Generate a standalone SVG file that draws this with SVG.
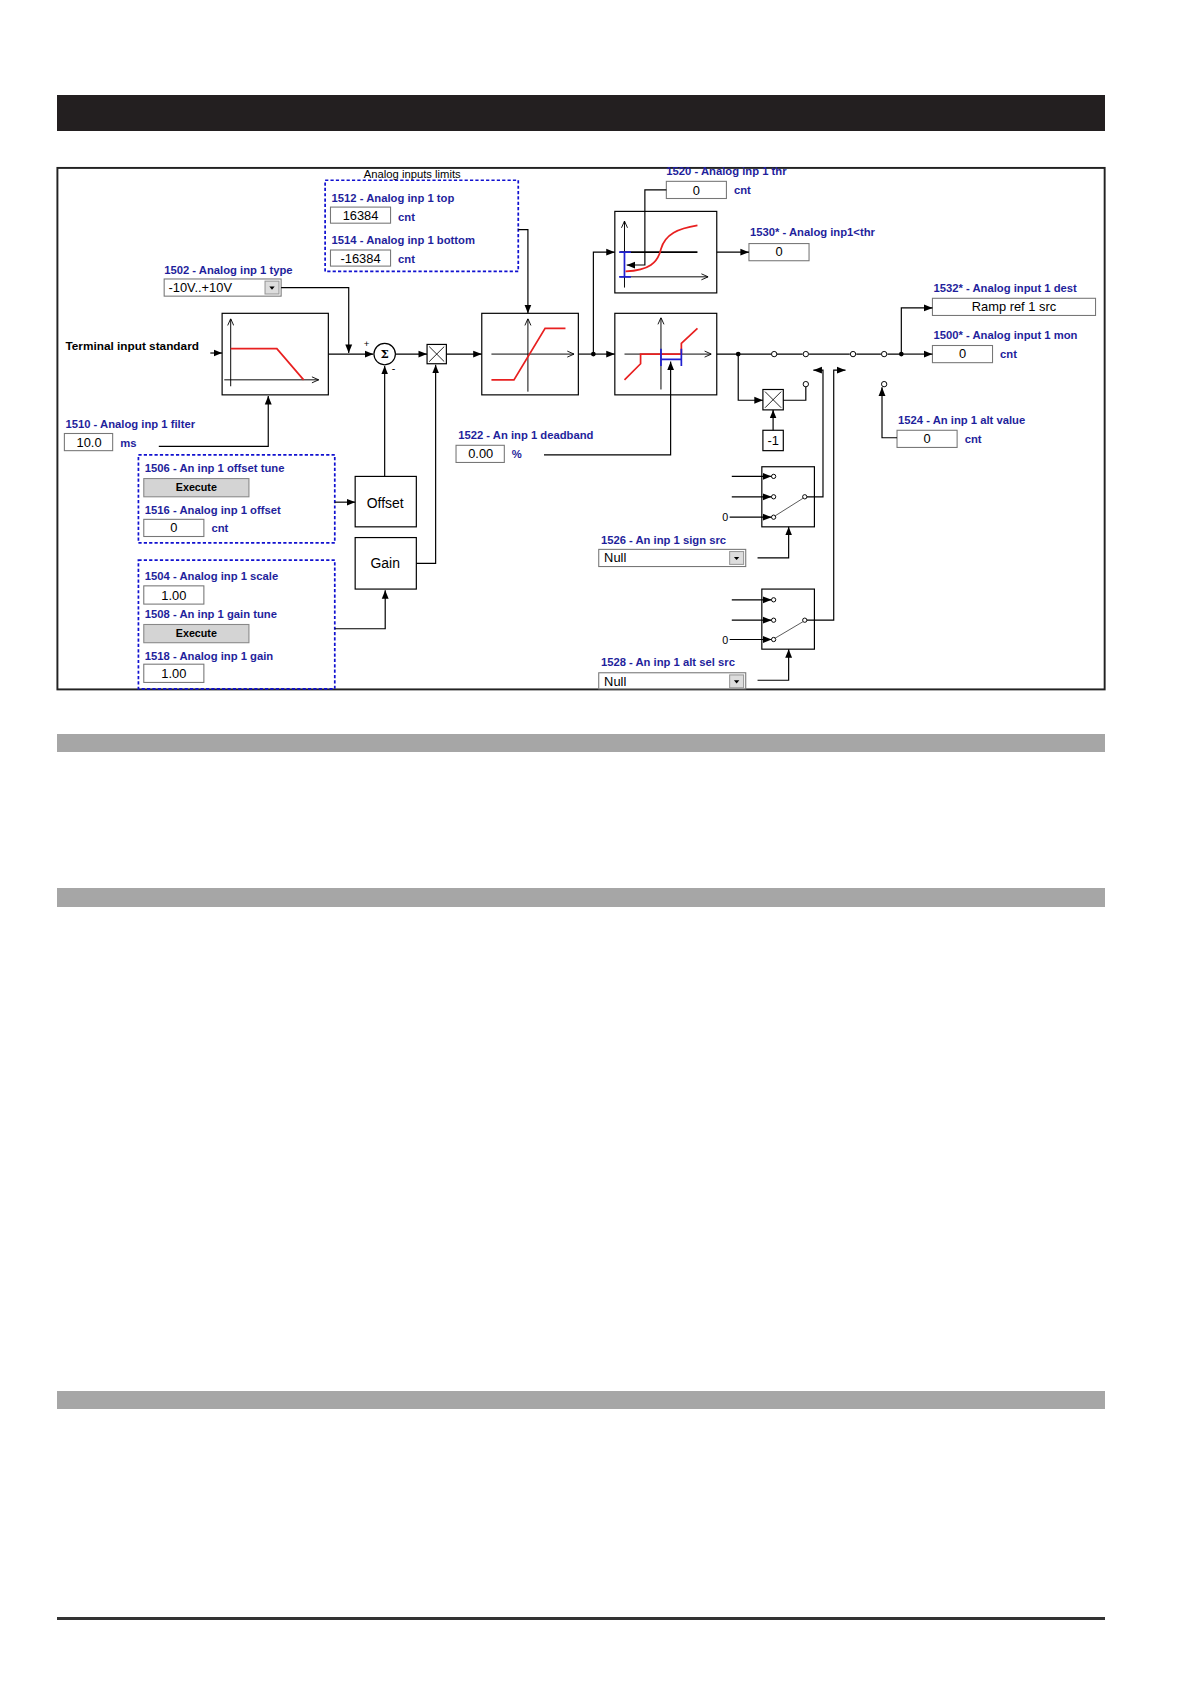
<svg xmlns="http://www.w3.org/2000/svg" width="1191" height="1684" viewBox="0 0 1191 1684">
<style>
.lbl{font-family:"Liberation Sans",Arial,sans-serif;font-weight:bold;font-size:10.5px;fill:#1f1f9c}
.val{font-family:"Liberation Sans",Arial,sans-serif;font-size:12px;fill:#000}
.blk{font-family:"Liberation Sans",Arial,sans-serif;font-size:11px;fill:#000;font-weight:bold}
.ln{fill:none;stroke:#000;stroke-width:1.1}
.arr{fill:none;stroke:#000;stroke-width:1.1;marker-end:url(#ah)}
.box{fill:#fff;stroke:#000;stroke-width:1.1}
.inp{fill:#fff;stroke:#777;stroke-width:1}
.dash{fill:none;stroke:#1010d0;stroke-width:1.6;stroke-dasharray:3,2}
.red{fill:none;stroke:#e82020;stroke-width:1.6}
.blue{fill:none;stroke:#2020d0;stroke-width:1.6}
.ax{fill:none;stroke:#000;stroke-width:0.9;marker-end:url(#oa)}
.btn{fill:#d4d4d4;stroke:#888;stroke-width:1}
.oc{fill:#fff;stroke:#000;stroke-width:0.9}
</style>
<defs>
<marker id="ah" viewBox="0 0 10 10" refX="10" refY="5" markerWidth="8" markerHeight="8" markerUnits="userSpaceOnUse" orient="auto"><path d="M0,1 L10,5 L0,9 z" fill="#000"/></marker>
<marker id="oa" viewBox="0 0 10 10" refX="10" refY="5" markerWidth="7" markerHeight="7" markerUnits="userSpaceOnUse" orient="auto"><path d="M1,1 L10,5 L1,9" fill="none" stroke="#000" stroke-width="1.2"/></marker>
</defs>
<rect width="1191" height="1684" fill="#fff"/>
<rect x="57" y="95" width="1048" height="36" fill="#231f20"/>
<rect x="57" y="734" width="1048" height="18" fill="#a6a6a6"/>
<rect x="57" y="888" width="1048" height="19" fill="#a6a6a6"/>
<rect x="57" y="1391" width="1048" height="18" fill="#a6a6a6"/>
<rect x="57" y="1617" width="1048" height="3" fill="#333"/>
<g transform="scale(1.073)">
<rect x="53.5" y="156.5" width="976" height="486" fill="none" stroke="#222" stroke-width="1.8"/>

<g id="limits">
<rect class="dash" x="303" y="168" width="180" height="85"/>
<text class="blk" x="339" y="166" style="font-weight:normal;font-size:10.5px">Analog inputs limits</text>
<text class="lbl" x="309" y="188">1512 - Analog inp 1 top</text>
<rect class="inp" x="308" y="193" width="56" height="15"/><text class="val" x="336" y="205" text-anchor="middle">16384</text>
<text class="lbl" x="371" y="206">cnt</text>
<text class="lbl" x="309" y="227">1514 - Analog inp 1 bottom</text>
<rect class="inp" x="308" y="233" width="56" height="15"/><text class="val" x="336" y="245" text-anchor="middle">-16384</text>
<text class="lbl" x="371" y="245">cnt</text>
</g>
<g id="type">
<text class="lbl" x="153" y="255">1502 - Analog inp 1 type</text>
<rect class="inp" x="153" y="260" width="109" height="16"/><text class="val" x="157" y="272">-10V..+10V</text>
<rect x="247" y="262" width="13" height="12" fill="#ddd" stroke="#999"/><path d="M251,267 h5 l-2.5,3z" fill="#000"/>
</g>
<g id="terminal"><text class="blk" x="61" y="326">Terminal input standard</text></g>
<g id="filterblk">
<rect class="box" x="207" y="292" width="99" height="76"/>
<line class="ax" x1="215" y1="360" x2="215" y2="297"/>
<line class="ax" x1="209" y1="354" x2="297" y2="354"/>
<polyline class="red" points="215,325 258,325 283,354"/>
</g>
<g id="filter">
<text class="lbl" x="61" y="399">1510 - Analog inp 1 filter</text>
<rect class="inp" x="60" y="404" width="45" height="16"/><text class="val" x="83" y="417" text-anchor="middle">10.0</text>
<text class="lbl" x="112" y="417">ms</text>
</g>
<g id="sum">
<circle cx="358.5" cy="330" r="10" fill="#fff" stroke="#000" stroke-width="1.1"/>
<text x="358.5" y="334" text-anchor="middle" style="font-family:'DejaVu Serif',serif;font-size:11px;font-weight:bold">Σ</text>
<text class="val" x="339" y="323" style="font-size:9px">+</text>
<text class="val" x="365" y="347" style="font-size:10px">-</text>
</g>
<g id="mult1">
<rect class="box" x="398" y="321" width="18" height="18"/>
<path d="M400,323 L414,337 M414,323 L400,337" stroke="#000" stroke-width="0.8"/>
</g>
<g id="limiter">
<rect class="box" x="449" y="292" width="90" height="76"/>
<line class="ax" x1="492" y1="365" x2="492" y2="297"/>
<line class="ax" x1="458" y1="330" x2="535" y2="330"/>
<polyline class="red" points="458,354 479,354 508,306 527,306"/>
</g>
<g id="thrblk">
<rect class="box" x="573" y="197" width="95" height="76"/>
<line class="ax" x1="582" y1="268" x2="582" y2="206"/>
<line class="ax" x1="578" y1="258" x2="660" y2="258"/>
<line x1="578" y1="235" x2="650" y2="235" stroke="#000" stroke-width="1.6"/>
<path class="blue" d="M582,235 V258 M577,235 H588 M577,258 H588"/>
<path class="red" d="M583,253 C605,252 613,245 616,232 C620,218 632,213 650,210"/>
</g>
<g id="thr">
<text class="lbl" x="621" y="163">1520 - Analog inp 1 thr</text>
<rect class="inp" x="621" y="169" width="56" height="16"/><text class="val" x="649" y="182" text-anchor="middle">0</text>
<text class="lbl" x="684" y="181">cnt</text>
</g>
<g id="throut">
<text class="lbl" x="699" y="220">1530* - Analog inp1&lt;thr</text>
<rect class="inp" x="698" y="227" width="56" height="16"/><text class="val" x="726" y="239" text-anchor="middle">0</text>
</g>
<g id="deadblk">
<rect class="box" x="573" y="292" width="95" height="76"/>
<line class="ax" x1="616" y1="363" x2="616" y2="296"/>
<line class="ax" x1="582" y1="330" x2="663" y2="330"/>
<polyline class="red" points="582,354 597,339 597,330 635,330 635,320 650,306"/>
<path class="blue" d="M616,335 H635 M616,325 V341 M635,325 V341"/>
</g>
<g id="deadband">
<text class="lbl" x="427" y="409">1522 - An inp 1 deadband</text>
<rect class="inp" x="425" y="415" width="45" height="16"/><text class="val" x="448" y="427" text-anchor="middle">0.00</text>
<text class="lbl" x="477" y="427">%</text>
</g>
<g id="dest">
<text class="lbl" x="870" y="272">1532* - Analog input 1 dest</text>
<rect class="inp" x="869" y="278" width="152" height="16"/><text class="val" x="945" y="290" text-anchor="middle">Ramp ref  1 src</text>
</g>
<g id="mon">
<text class="lbl" x="870" y="316">1500* - Analog input 1 mon</text>
<rect class="inp" x="869" y="322" width="56" height="16"/><text class="val" x="897" y="334" text-anchor="middle">0</text>
<text class="lbl" x="932" y="334">cnt</text>
</g>
<g id="alt">
<text class="lbl" x="837" y="395">1524 - An inp 1 alt value</text>
<rect class="inp" x="836" y="401" width="56" height="16"/><text class="val" x="864" y="413" text-anchor="middle">0</text>
<text class="lbl" x="899" y="413">cnt</text>
</g>
<g id="mult2">
<rect class="box" x="711" y="363" width="19" height="19"/>
<path d="M713,365 L728,380 M728,365 L713,380" stroke="#000" stroke-width="0.8"/>
</g>
<g id="neg">
<rect class="box" x="711" y="401" width="19" height="19"/>
<text class="val" x="720.5" y="415" text-anchor="middle">-1</text>
</g>
<g id="sw1">
<rect class="box" x="710" y="435" width="49" height="56"/>
<circle class="oc" cx="721" cy="444" r="2"/><circle class="oc" cx="721" cy="463" r="2"/><circle class="oc" cx="721" cy="482" r="2"/><circle class="oc" cx="750" cy="463" r="2"/>
<line x1="722" y1="481" x2="749" y2="464" stroke="#555" stroke-width="0.9"/>
<text class="val" x="673" y="486" style="font-size:10px">0</text>
</g>
<g id="sign">
<text class="lbl" x="560" y="507">1526 - An inp 1 sign src</text>
<rect class="inp" x="558" y="512" width="137" height="16"/><text class="val" x="563" y="524">Null</text>
<rect x="680" y="514" width="13" height="12" fill="#ddd" stroke="#999"/><path d="M684,519 h5 l-2.5,3z" fill="#000"/>
</g>
<g id="sw2">
<rect class="box" x="710" y="549" width="49" height="56"/>
<circle class="oc" cx="721" cy="559" r="2"/><circle class="oc" cx="721" cy="578" r="2"/><circle class="oc" cx="721" cy="596" r="2"/><circle class="oc" cx="750" cy="578" r="2"/>
<line x1="722" y1="595" x2="749" y2="579" stroke="#555" stroke-width="0.9"/>
<text class="val" x="673" y="600" style="font-size:10px">0</text>
</g>
<g id="altsel">
<text class="lbl" x="560" y="621">1528 - An inp 1 alt sel src</text>
<rect class="inp" x="558" y="627" width="137" height="15"/><text class="val" x="563" y="639">Null</text>
<rect x="680" y="629" width="13" height="12" fill="#ddd" stroke="#999"/><path d="M684,634 h5 l-2.5,3z" fill="#000"/>
</g>
<g id="offsettune">
<rect class="dash" x="129" y="424" width="183" height="82"/>
<text class="lbl" x="135" y="440">1506 - An inp 1 offset tune</text>
<rect class="btn" x="134" y="446" width="98" height="17"/><text class="blk" x="183" y="458" text-anchor="middle" style="font-size:10px">Execute</text>
<text class="lbl" x="135" y="479">1516 - Analog inp 1 offset</text>
<rect class="inp" x="134" y="484" width="56" height="16"/><text class="val" x="162" y="496" text-anchor="middle">0</text>
<text class="lbl" x="197" y="496">cnt</text>
</g>
<g id="offset"><rect class="box" x="331" y="444" width="57" height="47"/><text class="val" x="359" y="473" text-anchor="middle" style="font-size:13px">Offset</text></g>
<g id="gain"><rect class="box" x="331" y="501" width="57" height="48"/><text class="val" x="359" y="529" text-anchor="middle" style="font-size:13px">Gain</text></g>
<g id="scale">
<rect class="dash" x="129" y="522" width="183" height="120"/>
<text class="lbl" x="135" y="541">1504 - Analog inp 1 scale</text>
<rect class="inp" x="134" y="546" width="56" height="17"/><text class="val" x="162" y="559" text-anchor="middle">1.00</text>
<text class="lbl" x="135" y="576">1508 - An inp 1 gain tune</text>
<rect class="btn" x="134" y="582" width="98" height="17"/><text class="blk" x="183" y="594" text-anchor="middle" style="font-size:10px">Execute</text>
<text class="lbl" x="135" y="615">1518 - Analog inp 1 gain</text>
<rect class="inp" x="134" y="619" width="56" height="17"/><text class="val" x="162" y="632" text-anchor="middle">1.00</text>
</g>

<g id="connectors">
<line class="arr" x1="196" y1="329" x2="207" y2="329"/>
<path class="arr" d="M148,416 H250 V369"/>
<path class="arr" d="M262,268 H325 V329"/>
<line class="arr" x1="306" y1="330" x2="348" y2="330"/>
<line class="arr" x1="369" y1="330" x2="398" y2="330"/>
<line class="arr" x1="416" y1="330" x2="449" y2="330"/>
<path class="arr" d="M483,214 H492 V292"/>
<path class="arr" d="M358.5,444 V341"/>
<path class="arr" d="M388,525 H406 V340"/>
<line class="arr" x1="312" y1="468" x2="331" y2="468"/>
<path class="arr" d="M312,586 H359 V550"/>
<line class="ln" x1="539" y1="330" x2="553" y2="330"/>
<line class="arr" x1="553" y1="330" x2="573" y2="330"/>
<path class="arr" d="M553,330 V235 H573"/>
<circle cx="553" cy="330" r="2.2"/>
<path class="arr" d="M621,177 H601 V247 H584"/>
<line class="arr" x1="668" y1="235" x2="698" y2="235"/>
<path class="arr" d="M507,424 H625 V337"/>
<path class="ln" d="M668,330 H719 M724,330 H748 M754,330 H792 M798,330 H821 M827,330 H840"/>
<circle class="oc" cx="721.5" cy="330" r="2.5"/><circle class="oc" cx="751" cy="330" r="2.5"/><circle class="oc" cx="795" cy="330" r="2.5"/><circle class="oc" cx="824" cy="330" r="2.5"/>
<circle cx="688" cy="330" r="2.2"/><circle cx="840" cy="330" r="2.2"/>
<line class="arr" x1="840" y1="330" x2="869" y2="330"/>
<path class="arr" d="M840,330 V287 H869"/>
<path class="arr" d="M688,330 V373 H711"/>
<path class="ln" d="M730,373 H751 V360"/>
<circle class="oc" cx="751" cy="358" r="2.5"/>
<line class="arr" x1="720.5" y1="401" x2="720.5" y2="382"/>
<path class="arr" d="M836,408 H822 V361"/>
<circle class="oc" cx="824" cy="358" r="2.5"/>
<path class="arr" d="M752,463 H767 V345 H758"/>
<path class="arr" d="M752,578 H777 V345 H788"/>
<line class="arr" x1="682" y1="444" x2="719" y2="444"/>
<line class="arr" x1="682" y1="463" x2="719" y2="463"/>
<line class="arr" x1="680" y1="482" x2="719" y2="482"/>
<line class="arr" x1="682" y1="559" x2="719" y2="559"/>
<line class="arr" x1="682" y1="578" x2="719" y2="578"/>
<line class="arr" x1="680" y1="596" x2="719" y2="596"/>
<path class="arr" d="M706,520 H735 V491"/>
<path class="arr" d="M706,634 H735 V605"/>
</g>
</g>
</svg>
